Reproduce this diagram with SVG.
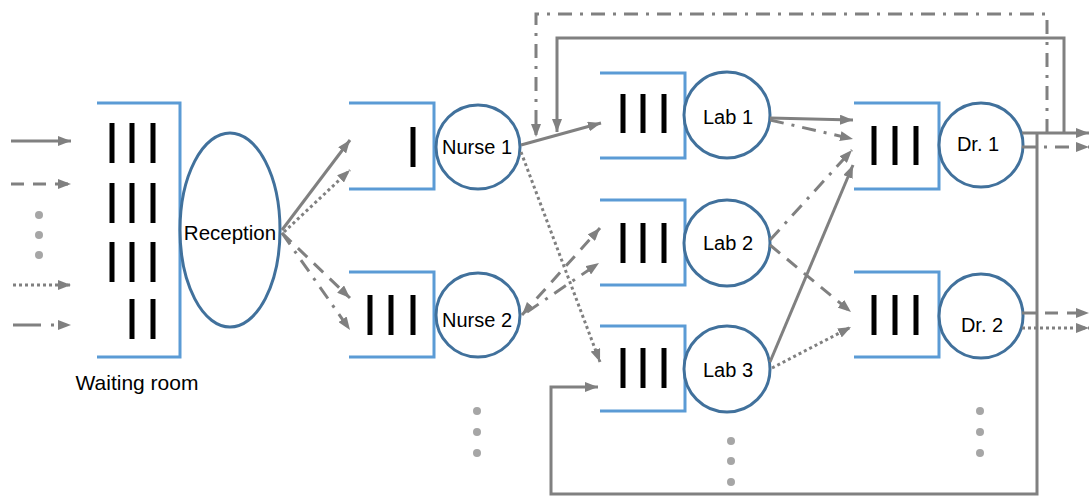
<svg xmlns="http://www.w3.org/2000/svg" width="1089" height="498" viewBox="0 0 1089 498">
<style>
.q{fill:none;stroke:#5B9BD5;stroke-width:3}
.c{fill:#fff;stroke:#41719C;stroke-width:3}
.b{stroke:#000;stroke-width:5}
.t{font-family:"Liberation Sans",Arial,sans-serif;font-size:20px;fill:#000;text-anchor:middle}
.l{fill:none;stroke:#808080;stroke-width:3}
.s{}
.d{stroke-dasharray:13 9}
.o{stroke-dasharray:3 3}
.dd{stroke-dasharray:14 8 3 8}
.dot{fill:#A6A6A6}
</style>
<defs>
<marker id="a" markerWidth="13" markerHeight="10" refX="13" refY="5" orient="auto-start-reverse" markerUnits="userSpaceOnUse">
<path d="M0,0 L13,5 L0,10 z" fill="#808080"/>
</marker>
</defs>

<g id="waiting-room">
<path class="q" d="M97,103 H180 V357 H97"/>
<g class="b">
<line x1="112" y1="123" x2="112" y2="163"/><line x1="132" y1="123" x2="132" y2="163"/><line x1="153" y1="123" x2="153" y2="163"/>
<line x1="112" y1="183" x2="112" y2="223"/><line x1="132" y1="183" x2="132" y2="223"/><line x1="153" y1="183" x2="153" y2="223"/>
<line x1="112" y1="242" x2="112" y2="282"/><line x1="132" y1="242" x2="132" y2="282"/><line x1="153" y1="242" x2="153" y2="282"/>
<line x1="132" y1="299" x2="132" y2="339"/><line x1="153" y1="299" x2="153" y2="339"/>
</g>
<text class="t" x="137" y="390" style="font-size:21px">Waiting room</text>
</g>

<g id="reception">
<ellipse class="c" cx="230" cy="230" rx="50" ry="97"/>
<text class="t" x="230" y="240" style="font-size:20.5px">Reception</text>
</g>

<g id="nurse1">
<path class="q" d="M349,103 H434 V189 H349"/>
<line class="b" x1="413" y1="127" x2="413" y2="167"/>
<circle class="c" cx="478" cy="147" r="42"/>
<text class="t" x="477" y="154">Nurse 1</text>
</g>

<g id="nurse2">
<path class="q" d="M349,272 H434 V357 H349"/>
<g class="b"><line x1="370" y1="295" x2="370" y2="335"/><line x1="391" y1="295" x2="391" y2="335"/><line x1="413" y1="295" x2="413" y2="335"/></g>
<circle class="c" cx="478" cy="315" r="42"/>
<text class="t" x="477" y="327">Nurse 2</text>
</g>

<g id="lab1">
<path class="q" d="M600,73 H685 V158 H600"/>
<g class="b"><line x1="623" y1="94" x2="623" y2="133"/><line x1="643" y1="94" x2="643" y2="133"/><line x1="664" y1="94" x2="664" y2="133"/></g>
<circle class="c" cx="727" cy="115" r="43"/>
<text class="t" x="728" y="124">Lab 1</text>
</g>

<g id="lab2">
<path class="q" d="M600,200 H685 V285 H600"/>
<g class="b"><line x1="623" y1="223" x2="623" y2="263"/><line x1="643" y1="223" x2="643" y2="263"/><line x1="664" y1="223" x2="664" y2="263"/></g>
<circle class="c" cx="727" cy="243" r="43"/>
<text class="t" x="728" y="250">Lab 2</text>
</g>

<g id="lab3">
<path class="q" d="M600,326 H685 V411 H600"/>
<g class="b"><line x1="623" y1="348" x2="623" y2="388"/><line x1="643" y1="348" x2="643" y2="388"/><line x1="664" y1="348" x2="664" y2="388"/></g>
<circle class="c" cx="727" cy="369" r="43"/>
<text class="t" x="728" y="377">Lab 3</text>
</g>

<g id="dr1">
<path class="q" d="M854,103 H939 V189 H854"/>
<g class="b"><line x1="874" y1="126" x2="874" y2="165"/><line x1="895" y1="126" x2="895" y2="165"/><line x1="916" y1="126" x2="916" y2="165"/></g>
<circle class="c" cx="981" cy="145" r="42"/>
<text class="t" x="978" y="151">Dr. 1</text>
</g>

<g id="dr2">
<path class="q" d="M854,272 H939 V357 H854"/>
<g class="b"><line x1="874" y1="295" x2="874" y2="335"/><line x1="895" y1="295" x2="895" y2="335"/><line x1="916" y1="295" x2="916" y2="335"/></g>
<circle class="c" cx="981" cy="316" r="42"/>
<text class="t" x="982" y="332">Dr. 2</text>
</g>

<g id="ellipsis">
<circle class="dot" cx="39" cy="215" r="4"/><circle class="dot" cx="39" cy="235" r="4"/><circle class="dot" cx="39" cy="255" r="4"/>
<circle class="dot" cx="477" cy="411" r="4"/><circle class="dot" cx="477" cy="432" r="4"/><circle class="dot" cx="477" cy="453" r="4"/>
<circle class="dot" cx="731" cy="441" r="4"/><circle class="dot" cx="731" cy="461" r="4"/><circle class="dot" cx="731" cy="482" r="4"/>
<circle class="dot" cx="980" cy="411" r="4"/><circle class="dot" cx="980" cy="432" r="4"/><circle class="dot" cx="980" cy="453" r="4"/>
</g>

<g id="connectors">
<line class="l s" x1="11" y1="141" x2="71" y2="141" marker-end="url(#a)"/>
<line class="l d" x1="11" y1="184" x2="71" y2="184" marker-end="url(#a)"/>
<line class="l o" x1="13" y1="285" x2="71" y2="285" marker-end="url(#a)"/>
<line class="l" style="stroke-dasharray:28 10 3 30" x1="13" y1="325" x2="71" y2="325" marker-end="url(#a)"/>
<line class="l s" x1="282" y1="230" x2="350" y2="140" marker-end="url(#a)"/>
<line class="l o" x1="284" y1="232" x2="350" y2="170" marker-end="url(#a)"/>
<line class="l d" x1="282" y1="233" x2="350" y2="298" marker-end="url(#a)"/>
<line class="l dd" x1="282" y1="233" x2="350" y2="330" marker-end="url(#a)"/>
<line class="l s" x1="521" y1="145" x2="601" y2="123" marker-end="url(#a)"/>
<line class="l o" x1="521" y1="152" x2="600" y2="362" marker-end="url(#a)"/>
<line class="l d" x1="522" y1="315" x2="600" y2="228" marker-start="url(#a)" marker-end="url(#a)"/>
<line class="l dd" x1="527" y1="312" x2="599" y2="263" marker-end="url(#a)"/>
<line class="l s" x1="770" y1="118" x2="853" y2="120" marker-end="url(#a)"/>
<line class="l dd" x1="770" y1="120" x2="853" y2="139" marker-end="url(#a)"/>
<line class="l dd" x1="770" y1="240" x2="852" y2="150" marker-end="url(#a)"/>
<line class="l d" x1="770" y1="245" x2="851" y2="312" marker-end="url(#a)"/>
<line class="l s" x1="770" y1="362" x2="853" y2="165" marker-end="url(#a)"/>
<line class="l o" x1="772" y1="368" x2="851" y2="327" marker-end="url(#a)"/>
<path class="l dd" d="M1047,133 V14 H536 V137" marker-end="url(#a)"/>
<path class="l s" d="M1064,133 V38 H557 V132" marker-end="url(#a)"/>
<line class="l s" x1="1022" y1="133" x2="1089" y2="133" marker-end="url(#a)"/>
<line class="l dd" x1="1022" y1="147" x2="1089" y2="147" marker-end="url(#a)"/>
<path class="l s" d="M1037,133 V494 H551 V387 H598" marker-end="url(#a)"/>
<line class="l s" x1="1022" y1="313" x2="1037" y2="313"/>
<line class="l d" x1="1045" y1="313" x2="1089" y2="313" marker-end="url(#a)"/>
<line class="l o" x1="1022" y1="328" x2="1089" y2="328" marker-end="url(#a)"/>
</g>
</svg>
